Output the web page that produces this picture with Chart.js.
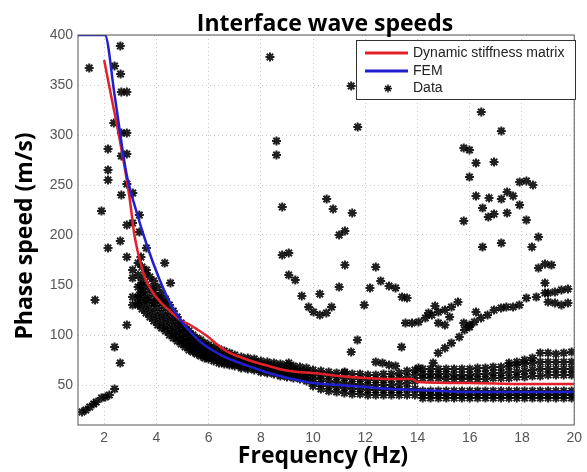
<!DOCTYPE html>
<html>
<head>
<meta charset="utf-8">
<script src="https://cdn.jsdelivr.net/npm/chart.js@4.4.0/dist/chart.umd.min.js"></script>
<style>
  html, body { margin: 0; padding: 0; background: #fff; }
  #wrap { width: 587px; height: 472px; }
</style>
</head>
<body>
<div id="wrap"><canvas id="grafico"></canvas></div>
<script>
// eixos
const freqTicks = [2, 4, 6, 8, 10, 12, 14, 16, 18, 20]
const speedTicks = [50, 100, 150, 200, 250, 300, 350, 400]

// Dynamic stiffness matrix (vermelho)
const dsmFreq = [2.0, 2.3, 2.6, 2.97, 3.16, 3.3, 3.45, 3.6, 3.85, 4.23, 4.6, 4.95, 5.23, 5.6, 5.99, 6.35, 6.74, 7.2, 7.75, 8.3, 8.88, 9.4, 10, 11, 12, 13, 13.8, 14.0, 16, 18, 20]
const dsmSpeed = [375, 335, 295, 238, 200, 182, 167, 155, 143, 131, 122, 114, 111, 105, 98, 90, 83, 78, 73, 69, 65, 63, 62, 59, 57, 56, 56, 53, 52, 51, 51]

// FEM (azul)
const femFreq = [1, 2.03, 2.4, 2.85, 3.22, 3.66, 4.1, 4.6, 4.92, 5.3, 5.74, 6.2, 6.62, 7.2, 7.75, 8.3, 8.88, 9.4, 10, 11, 12, 13, 14, 16, 18, 20]
const femSpeed = [400, 400, 340, 262, 225, 188, 157, 128, 115, 103, 92, 84, 78, 72, 67, 62, 58, 55, 52, 50, 48, 46, 45, 43, 43, 43]

// Data - pontos medidos [freq, speed]
const lowBranch = [[1.15, 23], [1.3, 25], [1.45, 28], [1.6, 31], [1.7, 33], [1.9, 37], [2.05, 38], [2.2, 40], [2.4, 46]]

const steepPoints = [
  [1.43, 367], [2.40, 369], [2.62, 389], [2.63, 361], [2.66, 343], [2.87, 343], [2.37, 312], [2.66, 302], [2.87, 302],
  [2.15, 286], [2.66, 279], [2.87, 281], [2.15, 265], [2.15, 255], [2.87, 251], [2.66, 240], [3.1, 242], [1.90, 224],
  [3.35, 220], [3.09, 212], [2.87, 210], [3.35, 203], [2.62, 194], [2.15, 187], [3.62, 187], [2.87, 178], [3.41, 178],
  [4.32, 172], [3.09, 165], [3.62, 165], [3.09, 157], [4.54, 152], [3.41, 150], [3.85, 147], [1.65, 135], [3.09, 138],
  [3.09, 130], [3.35, 140], [3.62, 135], [3.91, 132], [4.10, 137], [4.35, 132], [3.28, 132], [3.47, 143],
  [2.87, 110], [2.40, 88], [2.62, 72]
]

const bandRows = [
  [3.30, [172, 160, 148, 138, 130]], [3.45, [168, 155, 144, 134, 126]], [3.60, [162, 150, 140, 130, 122]], [3.75, [158, 146, 136, 126, 118]],
  [3.90, [154, 142, 132, 122, 114]], [4.05, [148, 137, 127, 118, 110]], [4.20, [142, 132, 122, 114, 107]], [4.35, [136, 127, 118, 110, 104]],
  [4.50, [130, 122, 114, 106, 100]], [4.65, [124, 117, 109, 102, 97]], [4.80, [118, 112, 105, 99, 94]], [4.95, [112, 107, 101, 96, 91]],
  [5.10, [108, 103, 97, 92, 88]], [5.25, [104, 99, 94, 89, 85]], [5.40, [100, 95, 91, 87, 83]], [5.55, [97, 92, 88, 84, 81]],
  [5.70, [95, 90, 86, 82, 79]], [5.85, [92, 88, 84, 80, 77]], [6.00, [90, 86, 82, 78, 76]], [6.20, [88, 84, 80, 77, 74]],
  [6.40, [86, 82, 78, 75, 72]], [6.60, [84, 80, 76, 73, 71]], [6.80, [82, 78, 75, 72, 70]], [7.00, [80, 77, 74, 71, 69]],
  [7.25, [78, 75, 72, 69, 67]], [7.50, [77, 74, 71, 68, 66]], [7.75, [76, 73, 70, 67, 65]], [8.00, [74, 71, 68, 65, 63]],
  [8.25, [73, 70, 67, 64, 62]], [8.50, [72, 69, 66, 63, 61]], [8.75, [71, 68, 64, 61, 59]], [9.00, [70, 67, 63, 60, 58]],
  [9.25, [69, 66, 62, 59, 57]], [9.50, [68, 64, 61, 58, 56]], [9.75, [67, 63, 60, 57, 54]], [10.0, [65, 61, 57, 53, 49]],
  [10.3, [64, 60, 56, 51, 46]], [10.6, [63, 59, 54, 49, 44]], [10.9, [62, 58, 53, 48, 43]], [11.2, [62, 57, 52, 47, 42]],
  [11.5, [61, 56, 51, 46, 41]], [11.8, [61, 56, 51, 46, 41]], [12.1, [60, 55, 50, 45, 40]], [12.4, [60, 55, 50, 45, 40]],
  [12.7, [61, 55, 50, 45, 40]], [13.0, [61, 56, 50, 45, 40]], [13.3, [62, 57, 51, 45, 40]], [13.6, [64, 58, 52, 46, 40]],
  [13.9, [65, 60, 54, 46, 40]], [14.2, [66, 61, 57, 44, 40, 37]], [14.5, [66, 61, 57, 44, 40, 37]], [14.8, [66, 61, 57, 44, 40, 37]],
  [15.1, [66, 61, 56, 44, 40, 37]], [15.4, [66, 60, 56, 44, 40, 37]], [15.7, [66, 60, 56, 44, 40, 37]], [16.0, [66, 60, 56, 44, 40, 37]],
  [16.3, [67, 61, 56, 44, 40, 37]], [16.6, [67, 61, 56, 44, 40, 37]], [16.9, [68, 62, 57, 44, 40, 37]], [17.2, [68, 62, 57, 44, 40, 37]],
  [17.5, [72, 69, 63, 57, 44, 40, 37]], [17.8, [73, 70, 63, 58, 44, 40, 37]], [18.1, [75, 71, 64, 58, 44, 40, 37]], [18.4, [77, 72, 65, 59, 44, 40, 37]],
  [18.7, [82, 73, 66, 59, 44, 40, 37]], [19.0, [82, 73, 66, 60, 44, 40, 37]], [19.3, [81, 73, 66, 60, 44, 40, 37]], [19.6, [82, 73, 66, 60, 44, 40, 37]],
  [19.9, [83, 73, 66, 60, 44, 40, 37]]
]

const upperPoints = [
  [8.35, 378], [11.46, 349], [11.71, 308], [8.60, 294], [8.60, 280], [8.82, 228], [10.52, 236], [10.77, 226], [11.5, 222],
  [11.0, 200], [11.22, 204], [8.82, 180], [9.07, 182], [11.22, 170], [9.07, 160], [9.32, 155], [12.4, 168], [12.59, 154],
  [12.91, 149], [13.16, 147], [11.0, 148], [12.18, 147], [9.57, 139], [10.26, 141], [13.41, 138], [13.6, 137],
  [9.83, 128], [10.02, 123], [10.26, 120], [10.51, 122], [10.71, 128], [11.96, 130], [11.46, 83], [11.7, 95], [13.39, 88],
  [12.4, 73], [12.66, 72], [12.91, 70], [13.16, 69], [11.21, 63], [9.07, 72]
]

const midCluster = [
  [13.54, 112], [13.79, 112], [14.04, 113], [14.3, 117], [14.55, 120], [14.8, 123], [15.05, 125], [15.3, 128], [15.55, 133],
  [14.67, 129], [14.42, 122], [14.8, 112], [15.05, 110], [15.23, 118], [15.77, 112], [15.99, 108], [16.24, 123]
]

const risingBranch = [
  [14.04, 67], [14.6, 72], [14.79, 82], [15.05, 87], [15.3, 92], [15.6, 98], [15.8, 105], [15.99, 110], [16.18, 113],
  [16.43, 117], [16.68, 120], [16.93, 125], [17.2, 127], [17.4, 128], [17.66, 128], [17.9, 130], [18.17, 137],
  [18.55, 138], [18.88, 142], [19.0, 142], [19.26, 143], [19.51, 145], [19.76, 146], [19.0, 133], [19.26, 132],
  [19.51, 130], [19.76, 132]
]

const rightCluster = [
  [16.44, 323], [17.21, 304], [15.77, 287], [15.99, 285], [16.24, 272], [16.93, 273], [15.99, 258], [16.24, 239],
  [16.74, 237], [16.49, 227], [16.71, 218], [16.93, 221], [17.21, 236], [17.43, 243], [17.66, 239], [17.43, 222],
  [17.91, 230], [17.91, 253], [18.17, 254], [18.42, 250], [18.17, 215], [15.77, 214], [16.49, 188], [17.21, 192],
  [18.63, 198], [18.38, 188], [18.63, 167], [18.88, 171], [19.13, 170], [18.88, 152]
]

function juntarPontos() {
  const pontos = []
  const grupos = [lowBranch, steepPoints, upperPoints, midCluster, risingBranch, rightCluster]
  grupos.forEach(function (g) {
    g.forEach(function (p) { pontos.push({ x: p[0], y: p[1] }) })
  })
  bandRows.forEach(function (linha) {
    linha[1].forEach(function (v) { pontos.push({ x: linha[0], y: v }) })
  })
  return pontos
}

function curva(xs, ys) {
  return xs.map(function (x, i) { return { x: x, y: ys[i] } })
}

const corVermelho = '#e3202a'
const corAzul = '#1f1fd0'
const fonteTitulo = 'bold 23px "Open Sans"'

// asterisco desenhado a mao (legenda)
function asterisco(c, x, y, r) {
  c.beginPath()
  c.moveTo(x - r, y); c.lineTo(x + r, y)
  c.moveTo(x, y - r); c.lineTo(x, y + r)
  const d = r * 0.7071
  c.moveTo(x - d, y - d); c.lineTo(x + d, y + d)
  c.moveTo(x - d, y + d); c.lineTo(x + d, y - d)
  c.stroke()
}

// titulos e moldura
const textos = {
  id: 'textos',
  afterDraw(chart) {
    const c = chart.ctx
    const area = chart.chartArea
    c.save()
    c.strokeStyle = '#555'
    c.lineWidth = 1
    c.strokeRect(area.left, area.top, area.right - area.left, area.bottom - area.top)

    c.fillStyle = '#000'
    c.font = fonteTitulo
    c.textAlign = 'center'
    c.textBaseline = 'alphabetic'
    c.fillText('Interface wave speeds', 325, 31)
    c.fillText('Frequency (Hz)', 323, 463)

    c.translate(32, 236)
    c.rotate(-Math.PI / 2)
    c.fillText('Phase speed (m/s)', 0, 0)
    c.restore()
  }
}

// legenda com caixa
const legenda = {
  id: 'legenda',
  afterDraw(chart) {
    const c = chart.ctx
    const ds = chart.data.datasets
    c.save()
    c.fillStyle = '#fff'
    c.fillRect(356, 40, 219, 59)
    c.strokeStyle = '#333'
    c.lineWidth = 1
    c.strokeRect(356.5, 40.5, 219, 59)

    const linhas = [53, 71, 88.5]
    c.font = '14px "Liberation Sans"'
    c.textBaseline = 'middle'
    ds.forEach(function (d, i) {
      const y = linhas[i]
      if (d.showLine) {
        c.strokeStyle = d.borderColor
        c.lineWidth = 3
        c.beginPath()
        c.moveTo(365, y)
        c.lineTo(408, y)
        c.stroke()
      } else {
        c.strokeStyle = '#111'
        c.lineWidth = 1.5
        asterisco(c, 388, y, 4)
      }
      c.fillStyle = '#222'
      c.fillText(d.label, 413, y)
    })
    c.restore()
  }
}

const ctx = document.getElementById('grafico')

new Chart(ctx, {
  type: 'scatter',
  data: {
    datasets: [{
      label: 'Dynamic stiffness matrix',
      data: curva(dsmFreq, dsmSpeed),
      showLine: true,
      borderColor: corVermelho,
      borderWidth: 2.5,
      pointRadius: 0,
      cubicInterpolationMode: 'monotone',
      order: 1
    }, {
      label: 'FEM',
      data: curva(femFreq, femSpeed),
      showLine: true,
      borderColor: corAzul,
      borderWidth: 2.5,
      pointRadius: 0,
      cubicInterpolationMode: 'monotone',
      order: 0
    }, {
      label: 'Data',
      data: juntarPontos(),
      showLine: false,
      pointStyle: 'star',
      pointRadius: 4.5,
      borderWidth: 2,
      borderColor: 'rgba(0,0,0,0.88)',
      backgroundColor: '#000',
      order: 2
    }]
  },
  options: {
    responsive: true,
    maintainAspectRatio: false,
    animation: false,
    layout: {
      autoPadding: false,
      padding: { top: 35, right: 5, bottom: 0, left: 0 }
    },
    plugins: {
      legend: { display: false },
      tooltip: { enabled: false }
    },
    scales: {
      x: {
        type: 'linear',
        min: 1,
        max: 20,
        afterBuildTicks: function (eixo) {
          eixo.ticks = freqTicks.map(function (v) { return { value: v } })
        },
        afterFit: function (eixo) { eixo.height = 47 },
        grid: { color: '#c8c8c8', drawTicks: false },
        border: { display: false, dash: [1, 3] },
        ticks: {
          color: '#555',
          padding: 5,
          maxRotation: 0,
          font: { family: 'Liberation Sans', size: 14 }
        }
      },
      y: {
        type: 'linear',
        min: 10,
        max: 400,
        afterBuildTicks: function (eixo) {
          eixo.ticks = speedTicks.map(function (v) { return { value: v } })
        },
        afterFit: function (eixo) { eixo.width = 78 },
        grid: { color: '#c8c8c8', drawTicks: false },
        border: { display: false, dash: [1, 3] },
        ticks: {
          color: '#555',
          padding: 5,
          font: { family: 'Liberation Sans', size: 14 }
        }
      }
    }
  },
  plugins: [textos, legenda]
})
</script>
</body>
</html>
